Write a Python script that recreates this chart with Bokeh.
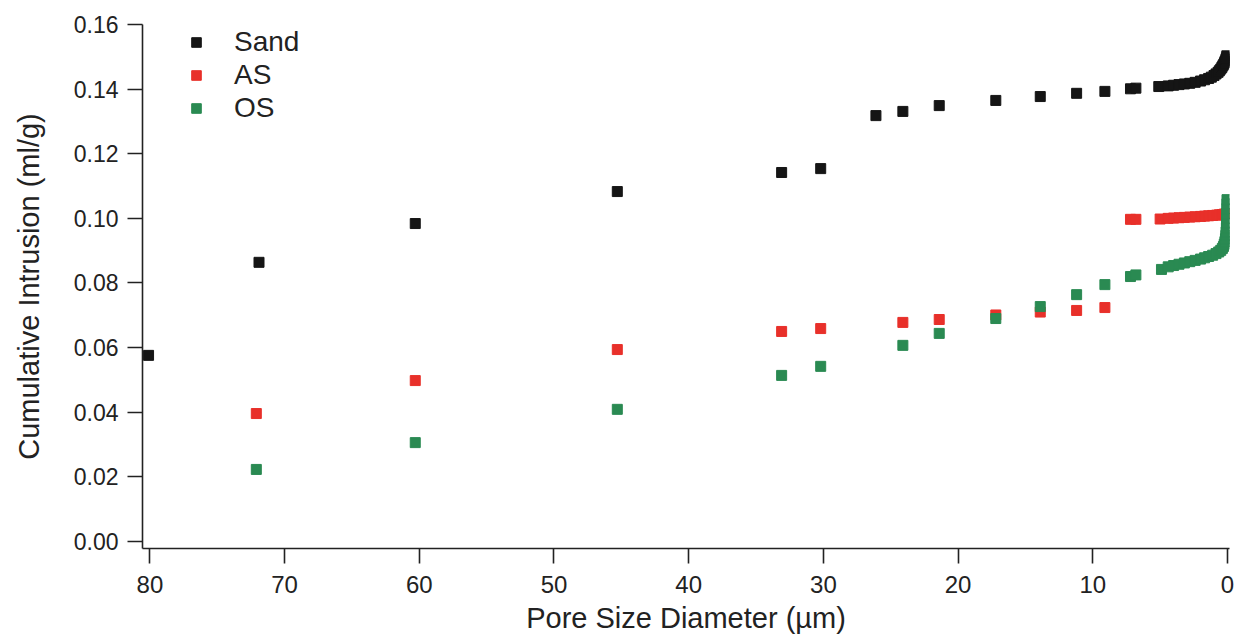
from bokeh.plotting import figure
from bokeh.models import Range1d, Legend, LegendItem, FixedTicker, CustomJSTickFormatter
from bokeh.embed import file_html
from bokeh.resources import INLINE

# ---- data (pore diameter in µm, cumulative intrusion in ml/g) ----
sand_d = [80.1, 71.9, 60.3, 45.3, 33.1, 30.2, 26.1, 24.1, 21.4, 17.2, 13.9, 11.2, 9.1,
          7.2, 6.8, 5.1, 4.4, 4.0, 3.6, 3.2, 2.8, 2.4, 2.0, 1.7, 1.4, 1.2, 1.0, 0.85,
          0.7, 0.6, 0.5, 0.42, 0.35, 0.28, 0.22, 0.17, 0.12, 0.08, 0.05]
sand_v = [0.0576, 0.0864, 0.0984, 0.1083, 0.1142, 0.1154, 0.1318, 0.1331, 0.1349, 0.1365,
          0.1377, 0.1387, 0.1393, 0.1401, 0.1403, 0.1408, 0.1410, 0.1412, 0.1414, 0.1416,
          0.1418, 0.1421, 0.1425, 0.1429, 0.1433, 0.1437, 0.1442, 0.1447, 0.1452, 0.1457,
          0.1462, 0.1467, 0.1472, 0.1477, 0.1482, 0.1487, 0.1492, 0.1497, 0.1503]

as_d = [72.1, 60.3, 45.3, 33.1, 30.2, 24.1, 21.4, 17.2, 13.9, 11.2, 9.1,
        7.2, 6.8, 5.0, 4.4, 4.0, 3.6, 3.2, 2.8, 2.4, 2.0, 1.7, 1.4, 1.1, 0.8, 0.6,
        0.4, 0.25, 0.12]
as_v = [0.0396, 0.0498, 0.0594, 0.0650, 0.0659, 0.0678, 0.0687, 0.0701, 0.0710, 0.0715, 0.0724,
        0.0997, 0.0997, 0.0998, 0.1000, 0.1001, 0.1002, 0.1003, 0.1004, 0.1005, 0.1006,
        0.1007, 0.1008, 0.1009, 0.1010, 0.1011, 0.1012, 0.1013, 0.1014]

os_d = [72.1, 60.3, 45.3, 33.1, 30.2, 24.1, 21.4, 17.2, 13.9, 11.2, 9.1,
        7.2, 6.8, 4.9, 4.4, 4.0, 3.6, 3.2, 2.8, 2.4, 2.0, 1.7, 1.4, 1.1, 0.85, 0.65,
        0.5, 0.38, 0.3, 0.24, 0.19, 0.15, 0.12, 0.1, 0.08, 0.07, 0.06, 0.05, 0.045,
        0.04, 0.035]
os_v = [0.0223, 0.0306, 0.0409, 0.0514, 0.0542, 0.0607, 0.0644, 0.0690, 0.0727, 0.0764, 0.0795,
        0.0820, 0.0825, 0.0842, 0.0850, 0.0854, 0.0858, 0.0862, 0.0866, 0.0870, 0.0874,
        0.0878, 0.0882, 0.0886, 0.0891, 0.0896, 0.0901, 0.0907, 0.0913, 0.0920, 0.0928,
        0.0937, 0.0947, 0.0958, 0.0970, 0.0985, 0.1000, 0.1015, 0.1030, 0.1045, 0.1058]

x_ticks = [80, 70, 60, 50, 40, 30, 20, 10, 0]
y_ticks = [0.00, 0.02, 0.04, 0.06, 0.08, 0.10, 0.12, 0.14, 0.16]

FONT = "Liberation Sans"
INK = "#222222"

p = figure(width=1234, height=637, output_backend="svg", toolbar_location=None,
           x_range=Range1d(80.55, -0.15), y_range=Range1d(-0.00217, 0.16),
           min_border_left=142, min_border_right=5, min_border_top=24,
           min_border_bottom=89, background_fill_color="white",
           border_fill_color="white")
p.outline_line_color = None
p.xgrid.visible = False
p.ygrid.visible = False

r_sand = p.scatter(sand_d, sand_v, marker="square", size=10, color="#151515")
r_as = p.scatter(as_d, as_v, marker="square", size=10, color="#e8302a")
r_os = p.scatter(os_d, os_v, marker="square", size=10, color="#2a8a52")

for ax in (p.xaxis[0], p.yaxis[0]):
    ax.axis_line_color = INK
    ax.axis_line_width = 1.6
    ax.major_tick_line_color = INK
    ax.major_tick_line_width = 1.6
    ax.major_tick_in = 0
    ax.major_tick_out = 15
    ax.minor_tick_line_color = None
    ax.major_label_text_font = FONT
    ax.major_label_text_color = INK
    ax.axis_label_text_font = FONT
    ax.axis_label_text_font_size = "29px"
    ax.axis_label_text_font_style = "normal"
    ax.axis_label_text_color = INK

p.xaxis.major_label_text_font_size = "24px"
p.yaxis.major_label_text_font_size = "23px"
p.xaxis.ticker = FixedTicker(ticks=x_ticks)
p.yaxis.ticker = FixedTicker(ticks=y_ticks)
p.yaxis.formatter = CustomJSTickFormatter(code="return tick.toFixed(2);")
p.xaxis.major_label_standoff = 12
p.yaxis.major_label_standoff = 9
p.xaxis.axis_label = "Pore Size Diameter (µm)"
p.yaxis.axis_label = "Cumulative Intrusion (ml/g)"
p.xaxis.axis_label_standoff = 6
p.yaxis.axis_label_standoff = 26

legend = Legend(items=[LegendItem(label="Sand", renderers=[r_sand]),
                       LegendItem(label="AS", renderers=[r_as]),
                       LegendItem(label="OS", renderers=[r_os])],
                location=(42, 424), orientation="vertical",
                glyph_width=24, glyph_height=24, label_standoff=26,
                label_text_font=FONT, label_text_font_size="28px",
                label_text_color=INK, spacing=1, padding=0, margin=0,
                border_line_color=None, background_fill_alpha=0)
p.add_layout(legend)

open("out.html", "w").write(file_html(p, INLINE))
